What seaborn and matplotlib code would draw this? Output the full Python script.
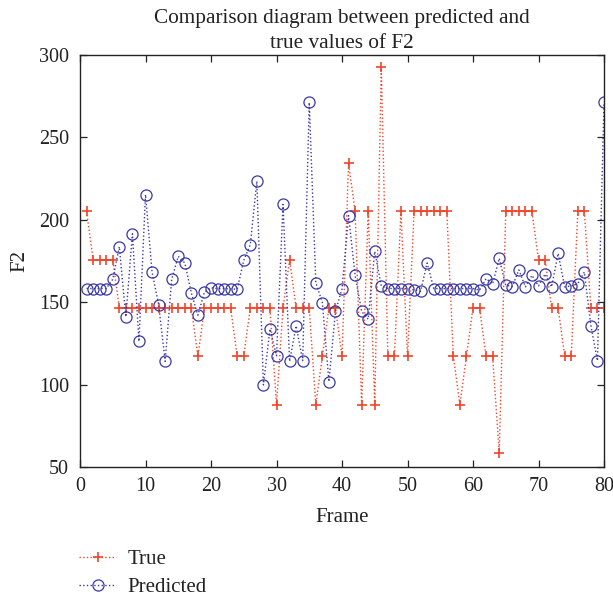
import numpy as np
import pandas as pd
import matplotlib
matplotlib.use("Agg")
import matplotlib.pyplot as plt
import seaborn as sns

frames = list(range(1, 81))

true_values = [
    205.1, 175.8, 175.8, 175.8, 175.8, 146.5, 146.5, 146.5, 146.5, 146.5,
    146.5, 146.5, 146.5, 146.5, 146.5, 146.5, 146.5, 117.2, 146.5, 146.5,
    146.5, 146.5, 146.5, 117.2, 117.2, 146.5, 146.5, 146.5, 146.5, 87.9,
    146.5, 175.8, 146.5, 146.5, 146.5, 87.9, 117.2, 146.5, 146.5, 117.2,
    234.4, 205.1, 87.9, 205.1, 87.9, 293.0, 117.2, 117.2, 205.1, 117.2,
    205.1, 205.1, 205.1, 205.1, 205.1, 205.1, 117.2, 87.9, 117.2, 146.5,
    146.5, 117.2, 117.2, 58.6, 205.1, 205.1, 205.1, 205.1, 205.1, 175.8,
    175.8, 146.5, 146.5, 117.2, 117.2, 205.1, 205.1, 146.5, 146.5, 146.5,
]

predicted_values = [
    158.3, 158.3, 158.3, 158.3, 163.9, 183.7, 141.1, 191.5, 126.2, 215.3,
    168.3, 148.6, 114.1, 163.9, 177.8, 173.8, 155.6, 142.1, 156.2, 158.7,
    158.3, 158.3, 158.0, 157.9, 175.4, 184.9, 223.4, 99.8, 133.7, 117.5,
    209.3, 114.1, 135.7, 114.5, 271.2, 161.9, 149.8, 101.8, 144.4, 158.0,
    202.6, 166.3, 144.4, 139.7, 180.8, 159.9, 158.3, 158.3, 158.3, 158.3,
    157.5, 156.7, 173.8, 158.3, 158.3, 158.3, 158.3, 158.3, 158.3, 158.3,
    157.3, 164.3, 161.1, 176.6, 160.3, 159.5, 169.6, 159.3, 166.3, 159.9,
    167.1, 159.3, 179.6, 159.3, 159.9, 161.3, 168.3, 135.7, 114.5, 271.2,
]

x_ticks = [0, 10, 20, 30, 40, 50, 60, 70, 80]
y_ticks = [50, 100, 150, 200, 250, 300]

sns.set_theme(style="ticks")
plt.rcParams["font.family"] = ["Liberation Serif", "DejaVu Serif"]
plt.rcParams["xtick.direction"] = "in"
plt.rcParams["ytick.direction"] = "in"

fig = plt.figure(figsize=(6.13, 5.99), dpi=100)
ax = fig.add_axes([80 / 613, 1 - 467 / 599, 524 / 613, 412 / 599])

df = pd.DataFrame({"Frame": frames, "True": true_values, "Predicted": predicted_values})

red = "#f0452a"
blue = "#3a37a8"
ink = "#222222"

sns.lineplot(data=df, x="Frame", y="True", ax=ax, color=red, linestyle=":",
             linewidth=1.0, marker="+", markersize=7.5, markeredgewidth=1.2,
             markeredgecolor=red, label="True")
sns.lineplot(data=df, x="Frame", y="Predicted", ax=ax, color=blue, linestyle=":",
             linewidth=1.0, marker="o", markersize=8, markerfacecolor="none",
             markeredgecolor=blue, markeredgewidth=0.9, label="Predicted")

ax.set_xlim(0, 80)
ax.set_ylim(50, 300)
ax.set_xticks(x_ticks)
ax.set_yticks(y_ticks)
ax.tick_params(axis="both", which="both", direction="in", top=True, right=True,
               labelsize=14.5, length=5, width=0.9, colors=ink)
ax.tick_params(axis="x", pad=7)
ax.tick_params(axis="y", pad=8)
for s in ax.spines.values():
    s.set_visible(True)
    s.set_linewidth(1.0)
    s.set_color(ink)

ax.set_xlabel("Frame", fontsize=15, color=ink, labelpad=9)
ax.set_ylabel("F2", fontsize=15, color=ink, labelpad=7)
ax.set_title("Comparison diagram between predicted and\ntrue values of F2",
             fontsize=15.3, color=ink, pad=5, linespacing=1.4)

handles, labels = ax.get_legend_handles_labels()
ax.legend_.remove()
fig.legend(handles, labels, loc="upper left", bbox_to_anchor=(60 / 613, 1 - 531 / 599),
           frameon=False, fontsize=15, handlelength=1.8, handletextpad=0.55,
           labelspacing=0.4, labelcolor=ink)

fig.savefig("out.png", dpi=100)
